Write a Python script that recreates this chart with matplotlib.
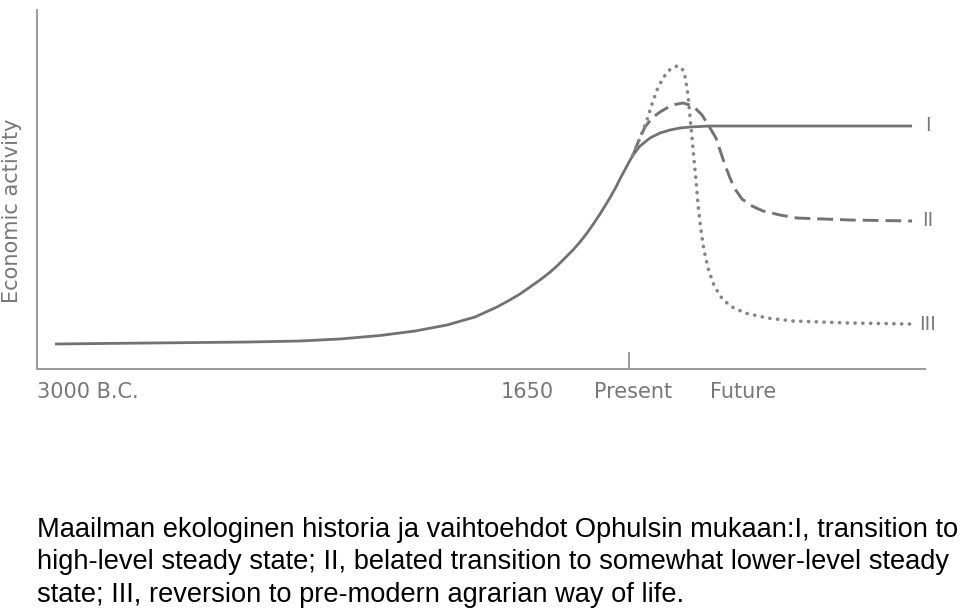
import matplotlib
matplotlib.use("Agg")
import matplotlib.pyplot as plt

# yhteinen nousu 3000 eKr. -> nykyhetki (x: aika 0-100, y: taloudellinen aktiivisuus 0-100)
nousu_x = [2.03, 7.09, 12.73, 18.36, 23.99, 29.62, 34.12, 38.63, 42.57, 46.17, 49.32,
           51.80, 53.04, 54.39, 55.52, 56.64, 57.66, 58.56, 59.46, 60.36, 61.15, 61.94,
           62.73, 63.40, 63.96, 64.64, 65.20, 65.65, 66.10, 66.55, 67.12]
nousu_y = [6.96, 7.10, 7.24, 7.38, 7.52, 7.80, 8.36, 9.33, 10.58, 12.26, 14.48,
           17.27, 18.94, 20.89, 22.84, 24.79, 26.74, 28.69, 30.92, 33.15, 35.38, 37.88,
           40.67, 43.18, 45.40, 48.19, 50.70, 52.92, 55.01, 57.10, 59.61]

# I: siirtyminen korkean tason vakaaseen tilaan
i_x = [67.12, 67.91, 69.03, 70.16, 71.28, 72.41, 73.54, 74.66, 75.79, 98.54]
i_y = [59.61, 62.12, 64.35, 65.74, 66.57, 67.13, 67.41, 67.55, 67.69, 67.69]

# II: myohastynyt siirtyminen
ii_x = [67.12, 67.79, 68.47, 69.26, 70.16, 71.51, 72.75, 73.87, 74.89, 75.79, 76.46,
        76.91, 77.48, 78.04, 78.60, 79.39, 80.52, 81.76, 83.67, 85.59, 91.55, 98.54]
ii_y = [59.61, 63.79, 67.41, 69.92, 71.59, 73.54, 74.09, 73.26, 70.75, 67.13, 64.35,
        61.00, 56.82, 53.20, 50.14, 47.35, 45.40, 44.01, 42.90, 42.06, 41.50, 41.23]

# III: paluu esimoderniin maatalouteen
iii_x = [67.12, 67.91, 68.69, 69.26, 69.82, 70.38, 70.95, 71.51, 72.07, 72.52, 72.86,
         73.09, 73.31, 73.54, 73.76, 73.99, 74.21, 74.44, 74.77, 75.11, 75.56, 76.13,
         76.91, 78.04, 79.73, 82.21, 85.14, 91.55, 98.65]
iii_y = [59.61, 64.35, 69.36, 73.82, 77.72, 80.50, 82.73, 83.84, 84.40, 84.12, 82.73,
         79.94, 76.32, 70.19, 64.62, 58.22, 52.65, 45.68, 38.72, 33.15, 28.13, 23.96,
         20.33, 17.55, 15.60, 14.21, 13.37, 12.81, 12.53]

ajat = [5.7, 55.2, 67.1, 79.5]
aika_tekstit = ["3000 B.C.", "1650", "Present", "Future"]
nykyhetki = 66.7

kayra_nimet = ["I", "II", "III"]
kayra_tasot = [67.69, 41.23, 12.53]

kuvateksti = [
    "Maailman ekologinen historia ja vaihtoehdot Ophulsin mukaan:I, transition to",
    "high-level steady state; II, belated transition to somewhat lower-level steady",
    "state; III, reversion to pre-modern agrarian way of life.",
]

harmaa = "#727272"
fig = plt.figure(figsize=(9.6, 6.1), dpi=100)
ax = fig.add_axes([37 / 960, 1 - 369 / 610, 888 / 960, 359 / 610])

ax.plot(nousu_x + i_x[1:], nousu_y + i_y[1:], color=harmaa, lw=2.0, solid_capstyle="butt")
ax.plot(ii_x, ii_y, color=harmaa, lw=2.1, dashes=(5.4, 2.4))
ax.plot(iii_x, iii_y, color="#858585", lw=2.6, dashes=(0.05, 2.1), dash_capstyle="round")

for nimi, taso in zip(kayra_nimet, kayra_tasot):
    ax.text(100.3, taso, nimi, ha="center", va="center", fontsize=14,
            color="#7a7a7a", clip_on=False)

ax.set_xlim(0, 100)
ax.set_ylim(0, 100)
for puoli in ["top", "right"]:
    ax.spines[puoli].set_visible(False)
for puoli in ["left", "bottom"]:
    ax.spines[puoli].set_color("#9a9a9a")
    ax.spines[puoli].set_linewidth(1.4)

ax.set_yticks([])
ax.set_xticks(ajat)
ax.set_xticklabels(aika_tekstit, fontsize=15, color="#777777")
ax.tick_params(axis="x", which="major", length=0, pad=9)
ax.set_xticks([nykyhetki], minor=True)
ax.tick_params(axis="x", which="minor", direction="in", length=12, width=1.2, color="#8a8a8a")

fig.text(12 / 960, 1 - 211 / 610, "Economic activity", rotation=90, ha="center",
         va="center", fontsize=15, color="#777777")

for rivi, pohja in zip(kuvateksti, [537, 569, 602]):
    fig.text(37 / 960, 1 - pohja / 610, rivi, fontsize=19.6, family="Liberation Sans",
             va="baseline", ha="left", color="black")

fig.savefig("out.png", dpi=100)
